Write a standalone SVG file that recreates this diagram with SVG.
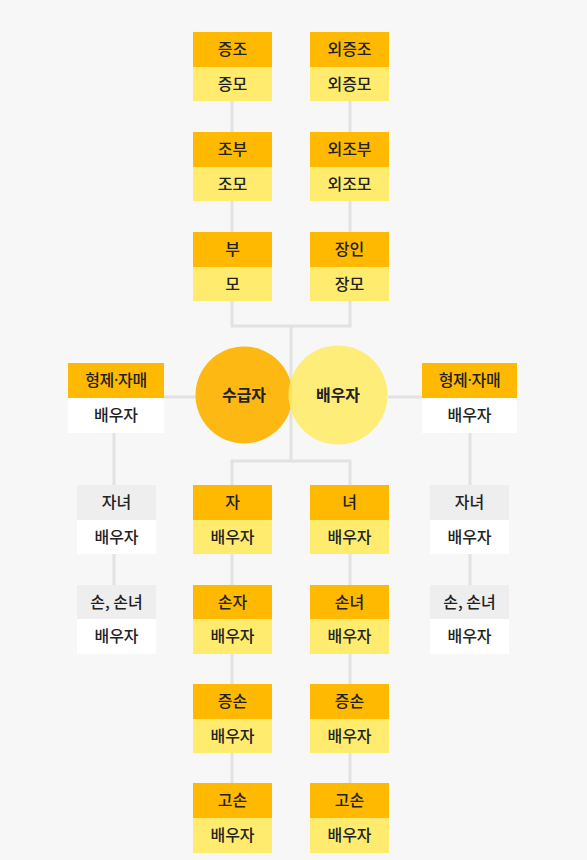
<svg xmlns="http://www.w3.org/2000/svg" width="587" height="860" viewBox="0 0 587 860">
<style>
text{font-family:"Noto Sans CJK KR","Noto Sans",sans-serif;font-size:16px;font-weight:500;fill:#222;text-anchor:middle}
.d{font-family:"Noto Sans",sans-serif}
.h{fill:#FFB900}
.y{fill:#FFEC6E}
.g{fill:#EEEEEE}
.w{fill:#FFFFFF}
.ln{stroke:#E2E2E2;stroke-width:3;fill:none}
.c{font-size:16px;font-weight:700}
</style>
<rect width="587" height="860" fill="#F7F7F7"/>
<g id="connectors" class="ln">
<path d="M232 101V132M232 201V232M350 101V132M350 201V232"/>
<path d="M232 300V326H350V300M291 326V461M232 485V461H350V485"/>
<path d="M232 554V585M232 654V684M232 753V784M350 554V585M350 654V684M350 753V784"/>
<path d="M164 397H196M388 397H422"/>
<path d="M114 433V485M114 554V585M470 433V485M470 554V585"/>
</g>
<g id="n-jeungjo"><rect class="h" x="193" y="32" width="79" height="35"/><rect class="y" x="193" y="67" width="79" height="34"/><text x="232.5" y="55">증조</text><text x="232.5" y="89.5">증모</text></g>
<g id="n-oejeungjo"><rect class="h" x="310" y="32" width="79" height="35"/><rect class="y" x="310" y="67" width="79" height="34"/><text x="349.5" y="55">외증조</text><text x="349.5" y="89.5">외증모</text></g>
<g id="n-jobu"><rect class="h" x="193" y="132" width="79" height="35"/><rect class="y" x="193" y="167" width="79" height="34"/><text x="232.5" y="155">조부</text><text x="232.5" y="189.5">조모</text></g>
<g id="n-oejobu"><rect class="h" x="310" y="132" width="79" height="35"/><rect class="y" x="310" y="167" width="79" height="34"/><text x="349.5" y="155">외조부</text><text x="349.5" y="189.5">외조모</text></g>
<g id="n-bu"><rect class="h" x="193" y="232" width="79" height="35"/><rect class="y" x="193" y="267" width="79" height="34"/><text x="232.5" y="255">부</text><text x="232.5" y="289.5">모</text></g>
<g id="n-jangin"><rect class="h" x="310" y="232" width="79" height="35"/><rect class="y" x="310" y="267" width="79" height="34"/><text x="349.5" y="255">장인</text><text x="349.5" y="289.5">장모</text></g>
<g id="n-self"><circle cx="244" cy="395" r="48.5" fill="#FDB813"/><text class="c" x="244" y="401">수급자</text></g>
<g id="n-spouse"><circle cx="338" cy="395" r="49.5" fill="#FFEB6A" fill-opacity="0.9"/><text class="c" x="338" y="401">배우자</text></g>
<g id="n-sib-l"><rect class="h" x="68" y="363" width="96" height="35"/><rect class="w" x="68" y="398" width="96" height="35"/><text x="116" y="386" letter-spacing="-0.3">형제<tspan class="d">·</tspan>자매</text><text x="116" y="421">배우자</text></g>
<g id="n-sib-r"><rect class="h" x="422" y="363" width="95" height="35"/><rect class="w" x="422" y="398" width="95" height="35"/><text x="469.5" y="386" letter-spacing="-0.3">형제<tspan class="d">·</tspan>자매</text><text x="469.5" y="421">배우자</text></g>
<g id="n-child-l"><rect class="g" x="77" y="485" width="79" height="35"/><rect class="w" x="77" y="520" width="79" height="34"/><text x="116.5" y="508">자녀</text><text x="116.5" y="542.5">배우자</text></g>
<g id="n-gchild-l"><rect class="g" x="77" y="585" width="79" height="34"/><rect class="w" x="77" y="619" width="79" height="35"/><text x="116.5" y="607.5">손, 손녀</text><text x="116.5" y="642">배우자</text></g>
<g id="n-child-r"><rect class="g" x="430" y="485" width="79" height="35"/><rect class="w" x="430" y="520" width="79" height="34"/><text x="469.5" y="508">자녀</text><text x="469.5" y="542.5">배우자</text></g>
<g id="n-gchild-r"><rect class="g" x="430" y="585" width="79" height="34"/><rect class="w" x="430" y="619" width="79" height="35"/><text x="469.5" y="607.5">손, 손녀</text><text x="469.5" y="642">배우자</text></g>
<g id="n-son"><rect class="h" x="193" y="485" width="79" height="35"/><rect class="y" x="193" y="520" width="79" height="34"/><text x="232.5" y="508">자</text><text x="232.5" y="542.5">배우자</text></g>
<g id="n-daughter"><rect class="h" x="310" y="485" width="79" height="35"/><rect class="y" x="310" y="520" width="79" height="34"/><text x="349.5" y="508">녀</text><text x="349.5" y="542.5">배우자</text></g>
<g id="n-grandson"><rect class="h" x="193" y="585" width="79" height="34"/><rect class="y" x="193" y="619" width="79" height="35"/><text x="232.5" y="607.5">손자</text><text x="232.5" y="642">배우자</text></g>
<g id="n-granddaughter"><rect class="h" x="310" y="585" width="79" height="34"/><rect class="y" x="310" y="619" width="79" height="35"/><text x="349.5" y="607.5">손녀</text><text x="349.5" y="642">배우자</text></g>
<g id="n-ggson-l"><rect class="h" x="193" y="684" width="79" height="35"/><rect class="y" x="193" y="719" width="79" height="34"/><text x="232.5" y="707">증손</text><text x="232.5" y="741.5">배우자</text></g>
<g id="n-ggson-r"><rect class="h" x="310" y="684" width="79" height="35"/><rect class="y" x="310" y="719" width="79" height="34"/><text x="349.5" y="707">증손</text><text x="349.5" y="741.5">배우자</text></g>
<g id="n-goson-l"><rect class="h" x="193" y="783" width="79" height="35"/><rect class="y" x="193" y="818" width="79" height="35"/><text x="232.5" y="806">고손</text><text x="232.5" y="841">배우자</text></g>
<g id="n-goson-r"><rect class="h" x="310" y="783" width="79" height="35"/><rect class="y" x="310" y="818" width="79" height="35"/><text x="349.5" y="806">고손</text><text x="349.5" y="841">배우자</text></g>
</svg>
